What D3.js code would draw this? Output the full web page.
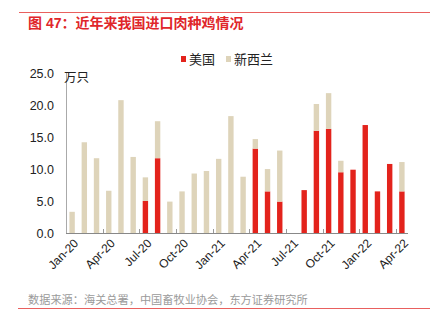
<!DOCTYPE html>
<html><head><meta charset="utf-8">
<script src="https://cdn.jsdelivr.net/npm/d3@7"></script>
<style>
body{margin:0;background:#fff;}
svg{display:block;font-family:"Liberation Sans","Noto Sans CJK SC",Arial,sans-serif;}
</style></head>
<body>
<script>
const months = ["Jan-20","Feb-20","Mar-20","Apr-20","May-20","Jun-20","Jul-20","Aug-20","Sep-20","Oct-20","Nov-20","Dec-20",
"Jan-21","Feb-21","Mar-21","Apr-21","May-21","Jun-21","Jul-21","Aug-21","Sep-21","Oct-21","Nov-21","Dec-21",
"Jan-22","Feb-22","Mar-22","Apr-22"];
const usValues = [0,0,0,0,0,0,5.1,11.8,0,0,0,0,0,0,0,13.3,6.6,5.0,0,6.8,16.1,16.4,9.6,10.0,17.0,6.6,10.9,6.6];
const nzValues = [3.4,14.3,11.8,6.7,20.9,12.0,3.7,5.8,5.0,6.6,9.4,9.8,11.7,18.4,8.9,1.5,3.5,8.0,0,0,4.2,5.6,1.8,0,0,0,0,4.6];
const seriesNames = ["美国","新西兰"];
const yTicks = [0,5,10,15,20,25];
const xLabelMonths = ["Jan-20","Apr-20","Jul-20","Oct-20","Jan-21","Apr-21","Jul-21","Oct-21","Jan-22","Apr-22"];

const W=442,H=331;
const colors=["#E3231C","#DED4BA"];
const svg=d3.select("body").append("svg").attr("width",W).attr("height",H);

// header / footer lines
svg.append("line").attr("x1",19).attr("x2",430).attr("y1",12.5).attr("y2",12.5).attr("stroke","#E9605E").attr("stroke-width",1);
svg.append("line").attr("x1",18).attr("x2",430).attr("y1",308.5).attr("y2",308.5).attr("stroke","#E9605E").attr("stroke-width",1);
svg.append("text").attr("x",28).attr("y",28).attr("fill","#E0262A").attr("font-size",14).attr("font-weight","bold")
  .text("图 47：近年来我国进口肉种鸡情况");
svg.append("text").attr("x",28).attr("y",304).attr("fill","#9a9a9a").attr("font-size",11.2)
  .text("数据来源：海关总署，中国畜牧业协会，东方证券研究所");

const x=d3.scaleBand().domain(months).range([66,408]).padding(0);
const y=d3.scaleLinear().domain([0,25]).range([233.5,74]);

const data=months.map((m,i)=>({m,us:usValues[i],nz:nzValues[i]}));
const stack=d3.stack().keys(["us","nz"])(data);
const bw=5.4;
svg.append("g").selectAll("g").data(stack).join("g").attr("fill",(d,i)=>colors[i])
  .selectAll("rect").data(d=>d).join("rect")
  .attr("x",d=>x(d.data.m)+x.bandwidth()/2-bw/2)
  .attr("width",bw)
  .attr("y",d=>y(d[1]))
  .attr("height",d=>Math.max(0,y(d[0])-y(d[1])));

// y axis
svg.append("line").attr("x1",66.5).attr("x2",66.5).attr("y1",72).attr("y2",233.5).attr("stroke","#aaa");
svg.append("g").selectAll("text").data(yTicks).join("text")
  .attr("x",54).attr("y",d=>y(d)).attr("dy","0.35em").attr("text-anchor","end")
  .attr("font-size",12.5).attr("fill","#222").text(d=>d.toFixed(1));
svg.append("text").attr("x",64).attr("y",82).attr("font-size",12.5).attr("fill","#222").text("万只");

// x axis
svg.append("line").attr("x1",66).attr("x2",408).attr("y1",233.5).attr("y2",233.5).attr("stroke","#888");
const tickIdx=d3.range(3,28,3);
svg.append("g").selectAll("line").data(tickIdx).join("line")
  .attr("x1",i=>Math.round(x(months[i]))+0.5).attr("x2",i=>Math.round(x(months[i]))+0.5)
  .attr("y1",229).attr("y2",233).attr("stroke","#999");
svg.append("g").selectAll("text").data(xLabelMonths).join("text")
  .attr("transform",d=>`translate(${x(d)+x.bandwidth()/2+4},${241}) rotate(-45)`)
  .attr("text-anchor","end").attr("dy","0.35em").attr("font-size",12).attr("fill","#222").text(d=>d);

// legend
const lg=svg.append("g");
const legX=[181,226];
seriesNames.forEach((n,i)=>{
  lg.append("rect").attr("x",legX[i]).attr("y",56).attr("width",5).attr("height",6).attr("fill",colors[i]);
  lg.append("text").attr("x",legX[i]+8).attr("y",63.5).attr("font-size",13).attr("fill","#222").text(n);
});
</script>
</body></html>
